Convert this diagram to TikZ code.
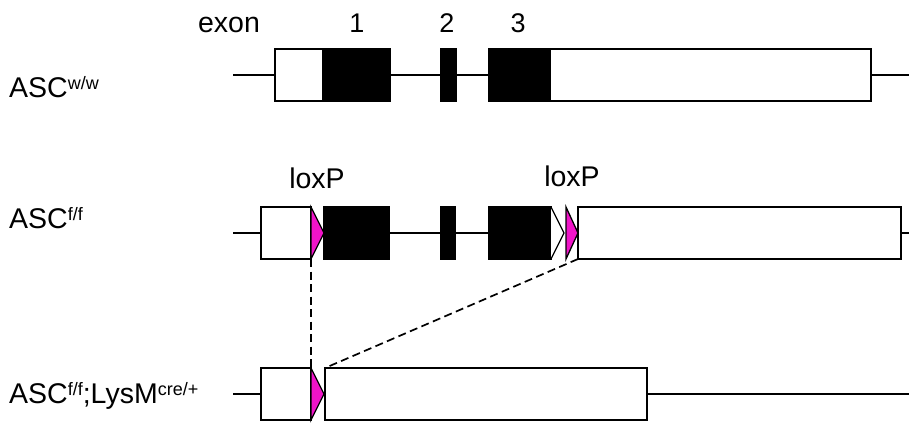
\documentclass[tikz,border=0pt]{standalone}
\usepackage{fontspec}
\setmainfont{Liberation Sans}
\newcommand\supx[1]{\raisebox{8pt}{\fontsize{18pt}{18pt}\selectfont #1}}
\definecolor{loxpink}{RGB}{240,20,200}
\begin{document}
\begin{tikzpicture}[x=1pt,y=-1pt,
  exbox/.style={draw, line width=1.5pt, inner sep=0pt, outer sep=0pt, minimum height=52pt},
  utr/.style={exbox, fill=white},
  cds/.style={exbox, fill=black},
  intron/.style={line width=1.3pt},
  loxp/.style={draw, line width=1.3pt, fill=loxpink, line join=miter},
  emptytri/.style={draw, line width=1.3pt, fill=white},
  lbl/.style={inner sep=0pt, font=\fontsize{28.5pt}{28.5pt}\selectfont},
  numlbl/.style={inner sep=0pt, font=\fontsize{27pt}{27pt}\selectfont},
  cut/.style={line width=1.7pt, dash pattern=on 8pt off 4.5pt}]
\useasboundingbox (0,0) rectangle (909,426);

% labels
\node[lbl, anchor=base] (exon) at (229,32) {exon};
\node[numlbl, anchor=base] (n1) at (357,32) {1};
\node[numlbl, anchor=base] (n2) at (447,32) {2};
\node[numlbl, anchor=base] (n3) at (518,32) {3};
\node[lbl, anchor=base west] (g1) at (9,97) {ASC\supx{w/w}};
\node[lbl, anchor=base west] (g2) at (9,228) {ASC\supx{f/f}};
\node[lbl, anchor=base west] (g3) at (9,403) {ASC\supx{f/f};LysM\supx{cre/+}};
\node[lbl, anchor=base] (lx1) at (317,188) {loxP};
\node[lbl, anchor=base] (lx2) at (572,186) {loxP};

% row 1
\coordinate (s1) at (233,75);
\coordinate (e1) at (909,75);
\node[utr, minimum width=48pt] (r1w1) at (299,75) {};
\node[cds, minimum width=67pt] (r1b1) at (356.5,75) {};
\node[cds, minimum width=15pt] (r1b2) at (448.5,75) {};
\node[cds, minimum width=61pt] (r1b3) at (519.5,75) {};
\node[utr, minimum width=321pt] (r1w2) at (710.5,75) {};
\draw[intron] (s1) -- (r1w1.west);
\draw[intron] (r1b1.east) -- (r1b2.west);
\draw[intron] (r1b2.east) -- (r1b3.west);
\draw[intron] (r1w2.east) -- (e1);

% row 2
\coordinate (s2) at (233,233);
\coordinate (e2) at (909,233);
\node[utr, minimum width=50pt] (r2w1) at (286,233) {};
\node[cds, minimum width=65pt] (r2b1) at (356.5,233) {};
\node[cds, minimum width=14pt] (r2b2) at (448,233) {};
\node[cds, minimum width=62pt] (r2b3) at (520,233) {};
\node[utr, minimum width=323pt] (r2w2) at (739.5,233) {};
\draw[intron] (s2) -- (r2w1.west);
\draw[intron] (r2b1.east) -- (r2b2.west);
\draw[intron] (r2b2.east) -- (r2b3.west);
\draw[intron] (r2w2.east) -- (e2);
\draw[loxp] (r2w1.north east) -- (r2b1.west) -- (r2w1.south east) -- cycle;
\draw[emptytri] (r2b3.north east) -- ([xshift=13pt]r2b3.east) -- (r2b3.south east);
\draw[loxp] ([xshift=-12pt]r2w2.north west) -- (r2w2.west) -- ([xshift=-12pt]r2w2.south west) -- cycle;

% row 3
\coordinate (s3) at (233,394);
\coordinate (e3) at (909,394);
\node[utr, minimum width=50pt] (r3w1) at (286,394) {};
\node[utr, minimum width=322pt] (r3w2) at (486,394) {};
\draw[intron] (s3) -- (r3w1.west);
\draw[intron] (r3w2.east) -- (e3);
\draw[loxp] (r3w1.north east) -- ([xshift=13pt]r3w1.east) -- (r3w1.south east) -- cycle;

% deletion lines
\draw[cut] (r2w1.south east) -- (r3w1.north east);
\draw[cut] (r2w2.south west) -- (r3w2.north west);
\end{tikzpicture}
\end{document}
